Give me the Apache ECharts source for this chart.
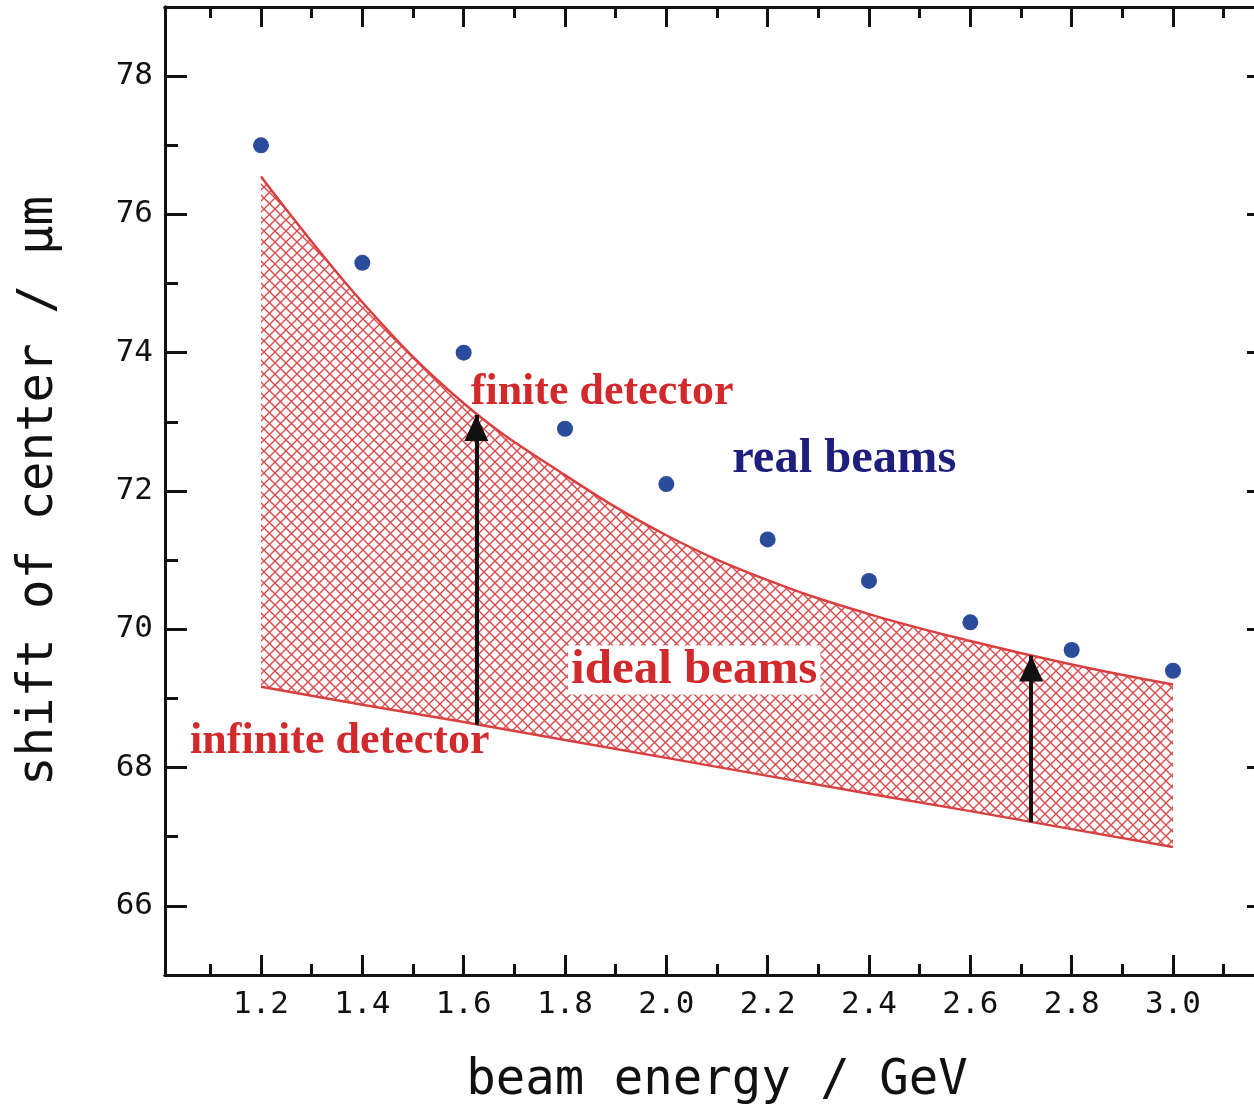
<!DOCTYPE html>
<html>
<head>
<meta charset="utf-8">
<script src="https://cdn.jsdelivr.net/npm/echarts@6/dist/echarts.min.js"></script>
<style>
  html, body { margin: 0; padding: 0; background: #fff; }
  #chart { width: 1254px; height: 1105px; }
</style>
</head>
<body>
<div id="chart"></div>
<script>
// beam energy (GeV) where the curves / points are read
var energy = [1.2, 1.4, 1.6, 1.8, 2.0, 2.2, 2.4, 2.6, 2.8, 3.0];
// blue dots: real beams
var realBeams = [77.0, 75.3, 74.0, 72.9, 72.1, 71.3, 70.7, 70.1, 69.7, 69.4];
// upper red curve: finite detector
var finiteDet = [76.55, 74.73, 73.27, 72.23, 71.36, 70.71, 70.22, 69.83, 69.49, 69.20];
// lower red line: infinite detector
var infiniteDet = [69.17, 68.91, 68.66, 68.40, 68.14, 67.88, 67.62, 67.37, 67.11, 66.85];

// arrows (x, from, to)
var arrowX = [1.625, 2.72];
var arrowFrom = [68.62, 67.21];
var arrowTo = [73.10, 69.62];

// text labels inside the plot
var noteText = ['finite detector', 'real beams', 'ideal beams', 'infinite detector'];
var noteX = [1.614, 2.13, 1.806, 1.06];
var noteY = [73.42, 72.45, 69.41, 68.37];

// ticks
var xMajor = [1.2, 1.4, 1.6, 1.8, 2.0, 2.2, 2.4, 2.6, 2.8, 3.0];
var xMinor = [1.1, 1.3, 1.5, 1.7, 1.9, 2.1, 2.3, 2.5, 2.7, 2.9, 3.1];
var yMajor = [66, 68, 70, 72, 74, 76, 78];
var yMinor = [67, 69, 71, 73, 75, 77];

// x range: the frame sits 0.18/0.95 GeV outside 1.2 and 3.0
var X_MIN = 1.2 - 0.18 / 0.95;
var X_MAX = 3.0 + 0.18 / 0.95;

var RED = '#d8403f';
var TXT_RED = '#d22a2c';
var NAVY = '#1e1f7c';
var BLUE = '#2b4c9b';
var INK = '#111';
var MONO = '"DejaVu Sans Mono", monospace';
var SERIF = '"Liberation Serif", "DejaVu Serif", serif';
// triangle head with its tip in the middle of the box, so the tip lands on the end point
var HEAD = 'path://M0,26L12,52L-12,52ZM0,0L0.01,0';

function hatch() {
  var s = 11;
  var c = document.createElement('canvas');
  c.width = s; c.height = s;
  var g = c.getContext('2d');
  g.strokeStyle = '#da4a4c';
  g.lineWidth = 1.4;
  g.beginPath();
  g.moveTo(-1, -1); g.lineTo(s + 1, s + 1);
  g.moveTo(-1, s + 1); g.lineTo(s + 1, -1);
  g.stroke();
  return c;
}

function xAxisDef(pos, ticks, len, labels) {
  return {
    type: 'value', position: pos, min: X_MIN, max: X_MAX,
    axisLine: { show: true, onZero: false, lineStyle: { color: INK, width: 3 } },
    axisTick: { show: true, inside: true, length: len, customValues: ticks,
      lineStyle: { color: INK, width: 3 } },
    axisLabel: labels ? {
      show: true, customValues: ticks, margin: 14,
      fontFamily: MONO, fontSize: 31, color: INK,
      formatter: function (v) { return v.toFixed(1); }
    } : { show: false },
    splitLine: { show: false }
  };
}

function yAxisDef(pos, ticks, len, labels) {
  return {
    type: 'value', position: pos, min: 65, max: 79,
    axisLine: { show: true, onZero: false, lineStyle: { color: INK, width: 3 } },
    axisTick: { show: true, inside: true, length: len, customValues: ticks,
      lineStyle: { color: INK, width: 3 } },
    axisLabel: labels ? {
      show: true, customValues: ticks, margin: 12,
      fontFamily: MONO, fontSize: 31, color: INK
    } : { show: false },
    splitLine: { show: false }
  };
}

var xs = [
  xAxisDef('bottom', xMajor, 20, true),
  xAxisDef('bottom', xMinor, 11, false),
  xAxisDef('top', xMajor, 20, false),
  xAxisDef('top', xMinor, 11, false)
];
xs[0].name = 'beam energy / GeV';
xs[0].nameLocation = 'middle';
xs[0].nameGap = 82;
xs[0].nameTextStyle = { fontFamily: MONO, fontSize: 49, color: INK };

var ys = [
  yAxisDef('left', yMajor, 22, true),
  yAxisDef('left', yMinor, 13, false),
  yAxisDef('right', yMajor, 22, false),
  yAxisDef('right', yMinor, 13, false)
];
ys[0].name = 'shift of center / µm';
ys[0].nameLocation = 'middle';
ys[0].nameGap = 101;
ys[0].nameTextStyle = { fontFamily: MONO, fontSize: 49, color: INK };

var lowerData = energy.map(function (x, i) { return [x, infiniteDet[i]]; });
var upperData = energy.map(function (x, i) { return [x, finiteDet[i]]; });
var realData = energy.map(function (x, i) { return [x, realBeams[i]]; });
var arrowData = arrowX.map(function (x, i) {
  return { coords: [[x, arrowFrom[i]], [x, arrowTo[i]]] };
});
var noteStyles = [
  { color: TXT_RED, fontSize: 44 },
  { color: NAVY, fontSize: 48.5 },
  { color: TXT_RED, fontSize: 49, backgroundColor: '#fff', padding: [0, 3] },
  { color: TXT_RED, fontSize: 44 }
];
var noteData = noteText.map(function (t, i) {
  var st = noteStyles[i];
  return {
    value: [noteX[i], noteY[i]],
    label: Object.assign({
      show: true, position: 'right', distance: 0, formatter: t,
      fontFamily: SERIF, fontWeight: 'bold', verticalAlign: 'middle'
    }, st)
  };
});

var chart = echarts.init(document.getElementById('chart'), null, { renderer: 'canvas' });
chart.setOption({
  animation: false,
  backgroundColor: '#fff',
  grid: { left: 165, top: 7, width: 1104, height: 968, containLabel: false, outerBoundsMode: 'none' },
  xAxis: xs,
  yAxis: ys,
  series: [
    {
      // hatched fill under the finite-detector curve
      name: 'finite detector', type: 'line', data: upperData,
      symbol: 'none', smooth: 0.4, z: -3,
      lineStyle: { color: RED, width: 2.5 },
      areaStyle: { origin: 'start', color: { image: hatch(), repeat: 'repeat' }, opacity: 1 }
    },
    {
      // white fill under the infinite-detector line cuts the band out
      name: 'infinite detector', type: 'line', data: lowerData,
      symbol: 'none', z: -2,
      lineStyle: { color: RED, width: 2.5 },
      areaStyle: { origin: 'start', color: '#fff', opacity: 1 }
    },
    {
      name: 'arrows', type: 'lines', coordinateSystem: 'cartesian2d',
      data: arrowData, symbol: ['none', HEAD], symbolSize: [0, [24, 52]],
      lineStyle: { color: INK, width: 4, opacity: 1 }, z: 4
    },
    {
      name: 'real beams', type: 'scatter', data: realData,
      symbolSize: 16, itemStyle: { color: BLUE, opacity: 1 }, z: 5
    },
    {
      name: 'notes', type: 'scatter', data: noteData,
      symbolSize: 0, itemStyle: { color: 'rgba(0,0,0,0)', opacity: 1 }, z: 6, silent: true
    }
  ]
});
</script>
</body>
</html>
